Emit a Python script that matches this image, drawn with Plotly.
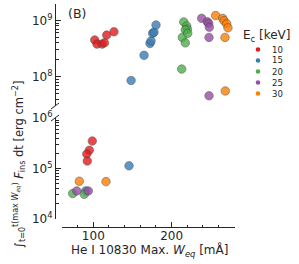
import plotly.graph_objects as go

# ---- data ----
energies = ["10", "15", "20", "25", "30"]
colors = ["#e41a1c", "#377eb8", "#4daf4a", "#984ea3", "#ff7f00"]

# upper panel (10^7.5 .. 10^9.3)
top_x = {
    "10": [101.8, 104.7, 111.1, 114.3, 117.1, 126.4],
    "15": [148.3, 164.8, 172.4, 173.7, 175.8, 177.5, 180.1],
    "20": [212.9, 213.7, 217.5, 215.5, 219.3, 220.1, 217.5, 220.6],
    "25": [238.4, 245.6, 247.4, 248.2, 247.8, 247.8],
    "30": [256.3, 265.3, 266.9, 270.4, 272.0, 268.2, 268.6],
}
top_y = {
    "10": [4.5e8, 3.8e8, 3.8e8, 4.0e8, 5.5e8, 6.3e8],
    "15": [8.6e7, 2.4e8, 3.9e8, 4.3e8, 5.9e8, 6.2e8, 8.3e8],
    "20": [1.37e8, 5.0e8, 4.0e8, 9.4e8, 8.0e8, 7.0e8, 6.8e8, 5.9e8],
    "25": [1.09e9, 9.5e8, 8.9e8, 7.6e8, 5.0e8, 4.6e7],
    "30": [1.22e9, 1.09e9, 9.9e8, 8.7e8, 7.4e8, 5.0e8, 5.6e7],
}
# lower panel (10^4 .. 10^6)
bot_x = {
    "10": [98.7, 94.9, 91.6, 92.3],
    "15": [145.6, 90.3],
    "20": [73.7, 88.5],
    "25": [78.8, 93.6],
    "30": [82.1, 116.2],
}
bot_y = {
    "10": [3.5e5, 2.3e5, 1.94e5, 1.41e5],
    "15": [1.13e5, 3.6e4],
    "20": [3.2e4, 3.1e4],
    "25": [3.6e4, 3.6e4],
    "30": [5.6e4, 5.5e4],
}

x_range = [60.0, 281.0]
x_ticks = [100, 200]
x_minor = [80, 120, 140, 160, 180, 220, 240, 260, 280]
top_range_log = [7.481, 9.292]
bot_range_log = [4.0, 6.0]
top_ticks = [1e8, 1e9]
top_ticktext = ["10<sup>8</sup>", "10<sup>9</sup>"]
bot_ticks = [1e4, 1e5, 1e6]
bot_ticktext = ["10<sup>4</sup>", "10<sup>5</sup>", "10<sup>6</sup>"]
top_minor = [m * 10**e for e in (7, 8) for m in range(2, 10) if m * 10**e > 3.0e7]
bot_minor = [m * 10**e for e in (4, 5) for m in range(2, 10)]

FONT = "DejaVu Sans"
INK = "#262626"
fig = go.Figure()

for e, c in zip(energies, colors):
    mk = dict(size=8.5, color=c, opacity=0.8, line=dict(width=0.6, color="#404040"))
    fig.add_trace(go.Scatter(x=top_x[e], y=top_y[e], mode="markers", marker=mk,
                             xaxis="x", yaxis="y", showlegend=False, hoverinfo="skip"))
    fig.add_trace(go.Scatter(x=bot_x[e], y=bot_y[e], mode="markers", marker=mk,
                             xaxis="x", yaxis="y2", showlegend=False, hoverinfo="skip"))

W, H = 299, 264
L, R, T, B = 55, 64, 4, 37
pw, ph = W - L - R, H - T - B

def py(p):  # pixel y -> paper
    return (H - B - p) / ph

def px(p):
    return (p - L) / pw

axis_common = dict(showline=True, linecolor=INK, linewidth=1, ticks="inside",
                   tickcolor=INK, showgrid=False, zeroline=False,
                   tickfont=dict(family=FONT, size=12, color=INK))

fig.update_layout(
    width=W, height=H, margin=dict(l=L, r=R, t=T, b=B, autoexpand=False),
    paper_bgcolor="white", plot_bgcolor="white",
    font=dict(family=FONT, color=INK),
    xaxis=dict(range=x_range, domain=[px(62), 1], anchor="free", position=0,
               tickvals=x_ticks, ticklen=5, ticklabelstandoff=-2,
               minor=dict(tickvals=x_minor, ticks="inside", ticklen=2.5, tickcolor=INK),
               **axis_common),
    yaxis=dict(type="log", range=top_range_log, domain=[py(106), py(4)], anchor="free",
               position=0, tickvals=top_ticks, ticktext=top_ticktext, ticklen=5,
               minor=dict(tickvals=top_minor, ticks="inside", ticklen=2.5, tickcolor=INK),
               **axis_common),
    yaxis2=dict(type="log", range=bot_range_log, domain=[py(219), py(118)], anchor="free",
                position=0, tickvals=bot_ticks, ticktext=bot_ticktext, ticklen=5,
                minor=dict(tickvals=bot_minor, ticks="inside", ticklen=2.5, tickcolor=INK),
                **axis_common),
    showlegend=False,
)

# axis titles, panel label
fig.add_annotation(text="He I 10830 Max. <i>W</i><sub><i>eq</i></sub> [mÅ]",
                   xref="paper", yref="paper", x=px(149), y=py(250),
                   xanchor="center", yanchor="middle", showarrow=False,
                   font=dict(family=FONT, size=12, color=INK))
fig.add_annotation(text="(B)", xref="paper", yref="paper", x=px(66), y=py(4),
                   xanchor="left", yanchor="top", showarrow=False,
                   font=dict(family=FONT, size=12.5, color=INK))
fig.add_annotation(
    text="∫<sub>t=0</sub><sup>t(max <i>W</i><sub><i>eq</i></sub>)</sup> <i>F</i><sub>ins</sub> dt [erg cm<sup>−2</sup>]",
    xref="paper", yref="paper", x=px(19), y=py(165), textangle=-90,
    xanchor="center", yanchor="middle",
    showarrow=False, font=dict(family=FONT, size=11.5, color=INK))

# legend (drawn compactly, matplotlib-style)
fig.add_annotation(text="E<sub>c</sub> [keV]", xref="paper", yref="paper",
                   x=px(241), y=py(36), xanchor="left", yanchor="middle",
                   showarrow=False, font=dict(family=FONT, size=12, color=INK))
for i, (e, c) in enumerate(zip(energies, colors)):
    yc = 49.5 + 11 * i
    fig.add_shape(type="circle", xref="paper", yref="paper",
                  x0=px(258 - 2.3), x1=px(258 + 2.3), y0=py(yc + 2.3), y1=py(yc - 2.3),
                  fillcolor=c, line=dict(width=0))
    fig.add_annotation(text=e, xref="paper", yref="paper", x=px(270), y=py(yc),
                       xanchor="left", yanchor="middle", showarrow=False,
                       font=dict(family=FONT, size=8.5, color=INK))

# broken-axis marks on the left spine
for yb in (106, 118):
    fig.add_shape(type="line", xref="paper", yref="paper",
                  x0=px(55 - 4), y0=py(yb + 3), x1=px(55 + 4), y1=py(yb - 3),
                  line=dict(color=INK, width=1))

fig.write_html("out.html", config={"displayModeBar": False},
               post_script="document.body.style.margin='0';")
